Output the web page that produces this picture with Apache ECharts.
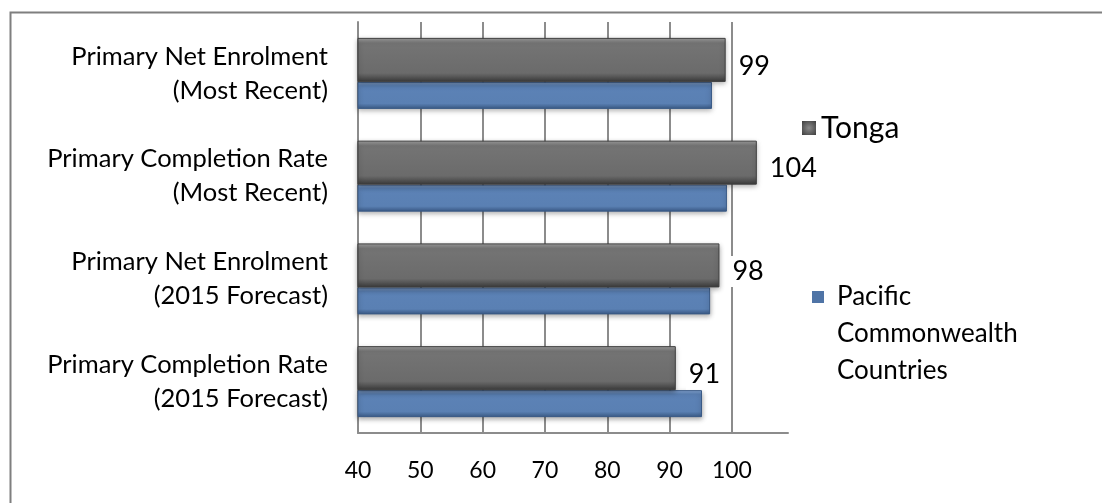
<!DOCTYPE html>
<html>
<head>
<meta charset="utf-8">
<script src="https://cdn.jsdelivr.net/npm/echarts@6/dist/echarts.min.js"></script>
<style>
html,body{margin:0;padding:0;background:#fff;}
#chart{width:1102px;height:503px;}
</style>
</head>
<body>
<div id="chart"></div>
<script>
const categories = [
  "Primary Net Enrolment\n(Most Recent)",
  "Primary Completion Rate\n(Most Recent)",
  "Primary Net Enrolment\n(2015 Forecast)",
  "Primary Completion Rate\n(2015 Forecast)"
];
const tongaValues = [99, 104, 98, 91];
const pacificValues = [96.8, 99.2, 96.5, 95.2];
const seriesNames = ["Tonga", "Pacific Commonwealth Countries"];
const xTicks = [40, 50, 60, 70, 80, 90, 100];

const FONT = "Lato";
const chart = echarts.init(document.getElementById('chart'), null, {renderer: 'canvas'});

const grayGrad = new echarts.graphic.LinearGradient(0, 0, 0, 1, [
  {offset: 0, color: '#a0a0a0'},
  {offset: 0.12, color: '#747474'},
  {offset: 0.8, color: '#6b6b6b'},
  {offset: 1, color: '#3a3a3a'}
]);
const blueGrad = new echarts.graphic.LinearGradient(0, 0, 0, 1, [
  {offset: 0, color: '#86a6d1'},
  {offset: 0.15, color: '#5c82b6'},
  {offset: 0.8, color: '#5a80b3'},
  {offset: 1, color: '#3a5a86'}
]);
const iconGray = new echarts.graphic.RadialGradient(0.5, 0.5, 0.7, [
  {offset: 0, color: '#8a8a8a'}, {offset: 1, color: '#3e3e3e'}
]);

const option = {
  animation: false,
  backgroundColor: '#ffffff',
  textStyle: {fontFamily: FONT},
  graphic: [{
    type: 'rect', left: 8, top: 10, silent: true,
    shape: {width: 1110, height: 510},
    style: {fill: 'none', stroke: '#7f7f7f', lineWidth: 2}
  }],
  grid: {left: 358, right: 314, top: 22, bottom: 70, containLabel: false},
  xAxis: {
    type: 'value', min: xTicks[0], max: 109, interval: 10,
    axisLine: {show: true, lineStyle: {color: '#8c8c8c', width: 2}},
    axisTick: {show: false},
    axisLabel: {
      color: '#000', fontSize: 23, fontFamily: FONT, margin: 26,
      showMaxLabel: false,
      formatter: v => xTicks.indexOf(v) >= 0 ? String(v) : ''
    },
    splitLine: {show: true, showMaxLine: false, lineStyle: {color: '#8c8c8c', width: 2}}
  },
  yAxis: {
    type: 'category', data: categories, inverse: true,
    axisLine: {show: true, lineStyle: {color: '#8c8c8c', width: 2}},
    axisTick: {show: false},
    axisLabel: {color: '#000', fontSize: 25.5, fontFamily: FONT, margin: 30, align: 'right', lineHeight: 34}
  },
  legend: [{
    data: [{name: seriesNames[0], icon: 'rect', itemStyle: {color: iconGray, borderWidth: 0}}],
    orient: 'vertical', left: 802, top: 113, padding: 0,
    itemWidth: 14, itemHeight: 14,
    textStyle: {fontSize: 30, color: '#000', fontFamily: FONT}
  }, {
    data: [{name: seriesNames[1], icon: 'path://M0,0h12v12h-12z M0,86h20',
      itemStyle: {color: '#4f74a6', borderWidth: 0}}],
    orient: 'vertical', left: 812, top: 278.5, padding: 0,
    itemWidth: 20, itemHeight: 86,
    formatter: () => 'Pacific\nCommonwealth\nCountries',
    textStyle: {fontSize: 26, color: '#000', fontFamily: FONT, lineHeight: 37}
  }],
  series: [{
    name: seriesNames[0], type: 'bar', data: tongaValues,
    barWidth: 44, barGap: '0%',
    itemStyle: {color: grayGrad, borderColor: '#3f3f3f', borderWidth: 1,
      shadowBlur: 5, shadowColor: 'rgba(0,0,0,0.35)', shadowOffsetY: 2},
    label: {
      show: true, position: 'right', distance: 10, offset: [0, 6],
      color: '#000', fontSize: 27, fontFamily: FONT,
      backgroundColor: '#fff', padding: [2, 3]
    },
    z: 3
  }, {
    name: seriesNames[1], type: 'bar', data: pacificValues,
    barWidth: 27, barGap: '0%',
    itemStyle: {color: blueGrad, borderColor: '#3a5a86', borderWidth: 1,
      shadowBlur: 5, shadowColor: 'rgba(0,0,0,0.35)', shadowOffsetY: 2},
    z: 2
  }]
};
chart.setOption(option);
</script>
</body>
</html>
